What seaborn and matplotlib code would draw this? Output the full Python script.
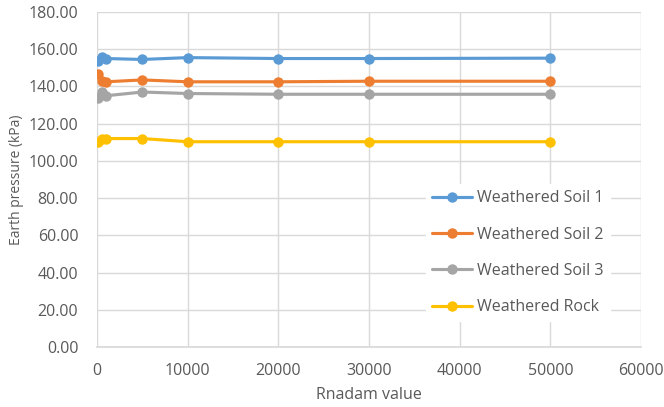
import matplotlib
matplotlib.use("Agg")
import matplotlib.pyplot as plt
import seaborn as sns
import pandas as pd
from matplotlib.ticker import FormatStrFormatter, MultipleLocator

rnadam = [100, 500, 1000, 5000, 10000, 20000, 30000, 50000]
soil1 = [153.5, 156.0, 155.0, 154.5, 155.5, 155.0, 155.0, 155.2]
soil2 = [146.5, 143.0, 142.5, 143.5, 142.5, 142.5, 142.8, 142.8]
soil3 = [134.0, 137.0, 135.0, 137.0, 136.2, 135.8, 135.8, 135.8]
rock = [110.0, 111.5, 112.0, 112.0, 110.3, 110.3, 110.3, 110.3]
series_names = ["Weathered Soil 1", "Weathered Soil 2", "Weathered Soil 3", "Weathered Rock"]
colors = ["#5B9BD5", "#ED7D31", "#A5A5A5", "#FFC000"]

rows = []
for name, vals in zip(series_names, [soil1, soil2, soil3, rock]):
    for x, v in zip(rnadam, vals):
        rows.append({"Rnadam value": x, "Earth pressure (kPa)": v, "series": name})
df = pd.DataFrame(rows)

sns.set_theme(style="whitegrid")
plt.rcParams["font.family"] = ["Open Sans", "DejaVu Sans"]
text_color = "#595959"

fig = plt.figure(figsize=(6.64, 4.07), dpi=100)
ax = fig.add_axes([97/664, 1 - 347/407, 544/664, 335/407])
sns.lineplot(data=df, x="Rnadam value", y="Earth pressure (kPa)", hue="series",
             hue_order=series_names, palette=colors, marker="o", markersize=7.5,
             markeredgewidth=0, linewidth=2.25, ax=ax, legend=True)

ax.set_xlim(0, 60000)
ax.set_ylim(0, 180)
ax.xaxis.set_major_locator(MultipleLocator(10000))
ax.yaxis.set_major_locator(MultipleLocator(20))
ax.yaxis.set_major_formatter(FormatStrFormatter("%.2f"))
ax.grid(True, color="#d9d9d9", linewidth=1)
for s in ax.spines.values():
    s.set_visible(False)
ax.spines["bottom"].set_visible(True)
ax.spines["bottom"].set_color("#d9d9d9")
ax.tick_params(axis="both", colors=text_color, labelsize=11.5, length=0)
ax.tick_params(axis="x", pad=11.5)
ax.tick_params(axis="y", pad=13.5)
ax.set_xlabel("Rnadam value", color=text_color, fontsize=11.5, labelpad=6)
ax.set_ylabel("Earth pressure (kPa)", color=text_color, fontsize=10, labelpad=3)

leg = ax.legend(loc="upper left", bbox_to_anchor=(0.604, 0.487), frameon=True,
                fontsize=11.5, handlelength=2.5, handletextpad=0.35,
                labelspacing=1.27, borderaxespad=0, borderpad=0.4)
leg.get_frame().set_facecolor("white")
leg.get_frame().set_edgecolor("white")
leg.get_frame().set_alpha(1)
for t in leg.get_texts():
    t.set_color(text_color)

fig.savefig("out.png", dpi=100)
